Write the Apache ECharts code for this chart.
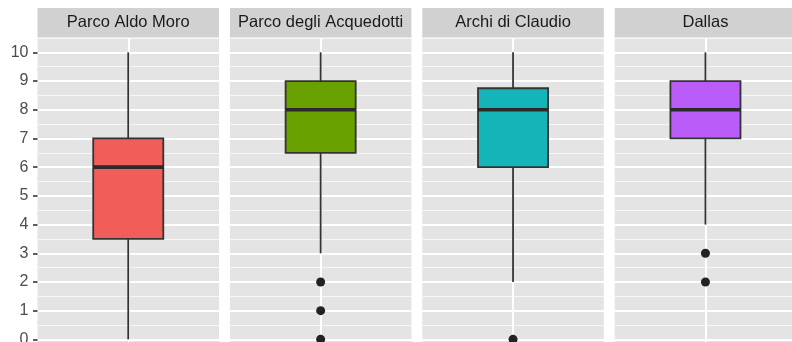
<!DOCTYPE html>
<html>
<head>
<meta charset="utf-8">
<script src="https://cdn.jsdelivr.net/npm/echarts@6/dist/echarts.min.js"></script>
<style>
  html, body { margin: 0; padding: 0; background: #ffffff; }
  #chart { width: 792px; height: 342px; }
</style>
</head>
<body>
<div id="chart"></div>
<script>
// Facet titles, one panel each
const facets = ['Parco Aldo Moro', 'Parco degli Acquedotti', 'Archi di Claudio', 'Dallas'];

// Five-number summaries per facet
const lowerWhisker = [0, 3, 2, 4];
const lowerQuartile = [3.5, 6.5, 6, 7];
const medians = [6, 8, 8, 8];
const upperQuartile = [7, 9, 8.75, 9];
const upperWhisker = [10, 10, 10, 10];

// Points beyond the whiskers
const outliers = [[], [2, 1, 0], [0], [3, 2]];

// Y axis tick labels
const yTicks = [0, 1, 2, 3, 4, 5, 6, 7, 8, 9, 10];

// Box fill colours
const fills = ['#F15E5A', '#69A100', '#14B4B9', '#BA5DF8'];

// Panel layout (pixels)
const PANEL_LEFT = 37.5;
const PANEL_STEP = 192.4;
const PANEL_W = 181.5;
const STRIP_TOP = 8;
const STRIP_H = 29.5;
const PANEL_TOP = 38;
const PANEL_H = 315.7;        // panel runs past the lower edge of the canvas
const BOX_WIDTH = 0.386;      // in x-axis units (axis spans 1.0)

const FONT = '"Liberation Sans", Arial, Helvetica, sans-serif';
const INK = '#333333';

const chart = echarts.init(document.getElementById('chart'), null, { renderer: 'canvas' });

const grids = [], xAxes = [], yAxes = [], series = [], graphics = [];

facets.forEach((name, i) => {
  const left = PANEL_LEFT + i * PANEL_STEP;
  grids.push({
    left: left,
    width: PANEL_W,
    top: PANEL_TOP,
    height: PANEL_H,
    show: true,
    backgroundColor: '#e4e4e4',
    borderWidth: 0,
    containLabel: false,
    outerBoundsMode: 'none'
  });

  xAxes.push({
    gridIndex: i,
    type: 'value',
    min: 0.5,
    max: 1.5,
    interval: 0.5,
    axisLine: { show: false },
    axisTick: { show: false },
    axisLabel: { show: false },
    splitLine: {
      show: true,
      showMinLine: false,
      showMaxLine: false,
      lineStyle: { color: '#ffffff', width: 2 }
    }
  });

  // minor grid lines at the half steps
  yAxes.push({
    gridIndex: i,
    type: 'value',
    position: 'left',
    min: -0.5,
    max: 10.5,
    interval: 1,
    axisLine: { show: false },
    axisTick: { show: false },
    axisLabel: { show: false },
    splitLine: { show: true, lineStyle: { color: '#f6f6f6', width: 1 } }
  });

  // major grid lines, ticks and labels at the integers
  yAxes.push({
    gridIndex: i,
    type: 'value',
    position: 'left',
    min: -0.5,
    max: 10.5,
    interval: 0.5,
    axisLine: { show: false },
    axisTick: {
      show: i === 0,
      customValues: yTicks,
      length: 4.5,
      lineStyle: { color: INK, width: 1.6 }
    },
    axisLabel: {
      show: i === 0,
      customValues: yTicks,
      margin: 9,
      color: '#4d4d4d',
      fontSize: 16,
      fontFamily: FONT
    },
    splitLine: { show: true, lineStyle: { color: '#ffffff', width: 2 } }
  });

  // box and whiskers drawn through the axis scales
  series.push({
    type: 'custom',
    xAxisIndex: i,
    yAxisIndex: 2 * i + 1,
    data: [[1, lowerWhisker[i], lowerQuartile[i], medians[i], upperQuartile[i], upperWhisker[i]]],
    encode: { x: 0, y: [1, 2, 3, 4, 5] },
    renderItem: function (params, api) {
      const x = api.value(0);
      const pLow = api.coord([x, api.value(1)]);
      const pQ1 = api.coord([x, api.value(2)]);
      const pMed = api.coord([x, api.value(3)]);
      const pQ3 = api.coord([x, api.value(4)]);
      const pHigh = api.coord([x, api.value(5)]);
      const half = api.size([BOX_WIDTH, 0])[0] / 2;
      const cx = pMed[0];
      return {
        type: 'group',
        children: [
          { type: 'line', shape: { x1: cx, y1: pQ1[1], x2: cx, y2: pLow[1] },
            style: { stroke: INK, lineWidth: 1.8 } },
          { type: 'line', shape: { x1: cx, y1: pQ3[1], x2: cx, y2: pHigh[1] },
            style: { stroke: INK, lineWidth: 1.8 } },
          { type: 'rect', shape: { x: cx - half, y: pQ3[1], width: 2 * half, height: pQ1[1] - pQ3[1] },
            style: { fill: fills[i], stroke: INK, lineWidth: 1.8 } },
          { type: 'line', shape: { x1: cx - half, y1: pMed[1], x2: cx + half, y2: pMed[1] },
            style: { stroke: '#2a2a2a', lineWidth: 3.6 } }
        ]
      };
    },
    silent: true,
    z: 3
  });

  series.push({
    type: 'scatter',
    xAxisIndex: i,
    yAxisIndex: 2 * i + 1,
    data: outliers[i].map(v => [1, v]),
    symbol: 'circle',
    symbolSize: 9,
    itemStyle: { color: '#222222', opacity: 1 },
    silent: true,
    z: 4
  });

  // facet strip with its title
  graphics.push({
    type: 'group',
    children: [
      { type: 'rect', shape: { x: left, y: STRIP_TOP, width: PANEL_W, height: STRIP_H },
        style: { fill: '#d1d1d1' } },
      { type: 'text', x: left + PANEL_W / 2, y: STRIP_TOP + STRIP_H / 2,
        style: { text: name, fill: '#1a1a1a', font: '16.5px ' + FONT,
                 align: 'center', verticalAlign: 'middle' } }
    ]
  });
});

chart.setOption({
  animation: false,
  backgroundColor: '#ffffff',
  grid: grids,
  xAxis: xAxes,
  yAxis: yAxes,
  series: series,
  graphic: graphics
});
</script>
</body>
</html>
